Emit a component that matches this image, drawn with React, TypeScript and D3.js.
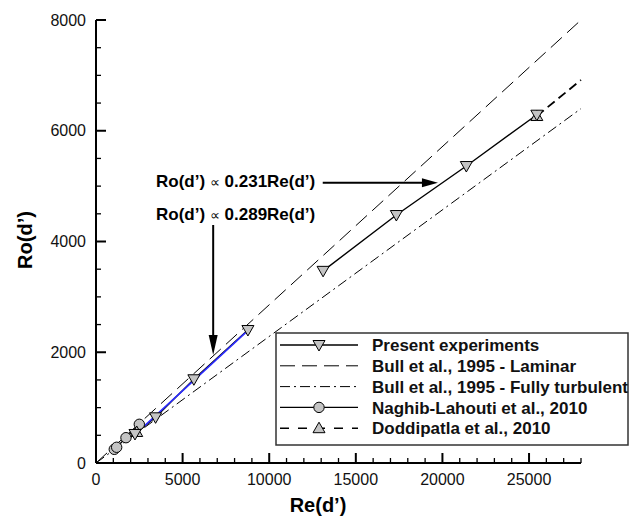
import React from "react";
import * as d3 from "d3";

// Present experiments: two ranges of Re(d')
const presentLowRe = [2250, 3440, 5650, 8770];
const presentLowRo = [524, 825, 1512, 2402];
const presentHighRe = [13110, 17340, 21380, 25450];
const presentHighRo = [3470, 4478, 5363, 6290];

// Linear fit through the low-Re range (slope 0.289)
const fitRe = [2800, 8700];
const fitRo = [669, 2374];

// Bull et al., 1995 correlations (lines through the origin)
const laminarRe = [0, 28000];
const laminarRo = [0, 8000];
const turbulentRe = [0, 28000];
const turbulentRo = [0, 6400];

// Naghib-Lahouti et al., 2010
const naghibRe = [1055, 1193, 1730, 2500];
const naghibRo = [247, 284, 457, 699];

// Doddipatla et al., 2010
const doddRe = [25450, 28000];
const doddRo = [6266, 6917];
const doddLowRe = [2350];
const doddLowRo = [560];

const xMajor = [0, 5000, 10000, 15000, 20000, 25000];
const yMajor = [0, 2000, 4000, 6000, 8000];

const legendLabels = [
  "Present experiments",
  "Bull et al., 1995 - Laminar",
  "Bull et al., 1995 - Fully turbulent",
  "Naghib-Lahouti et al., 2010",
  "Doddipatla et al., 2010",
];

const FONT = "'Liberation Sans', Arial, Helvetica, sans-serif";
const MARK_FILL = "#c4c4c4";

const triDown = "M-6,-4.5L6,-4.5L0,6Z";
const triUp = "M-6,4.5L6,4.5L0,-6Z";

export default function App() {
  const W = 630;
  const H = 517;
  const x = d3.scaleLinear().domain([0, 28000]).range([96, 581]);
  const y = d3.scaleLinear().domain([0, 8000]).range([463, 20]);

  const line = d3
    .line<[number, number]>()
    .x((d) => x(d[0]))
    .y((d) => y(d[1]));

  const zip = (a: number[], b: number[]) => a.map((v, i) => [v, b[i]] as [number, number]);

  const xMinor = d3.range(0, 28001, 1000).filter((v) => v % 5000 !== 0);
  const yMinor = d3.range(0, 8001, 500).filter((v) => v % 2000 !== 0);

  // legend geometry
  const lgX = 276;
  const lgY = 333;
  const lgW = 352;
  const lgH = 112;
  const rowY = (i: number) => lgY + 12 + i * 20.8;
  const sx0 = lgX + 4;
  const sx1 = lgX + 82;
  const smid = (sx0 + sx1) / 2;

  // annotation arrows (data coordinates)
  const arrow1 = { y: 5062, x0: 13090, x1: 19740 };
  const arrow2 = { x: 6765, y0: 4298, y1: 1950 };

  const a1y = y(arrow1.y);
  const a1x0 = x(arrow1.x0);
  const a1x1 = x(arrow1.x1);
  const a2x = x(arrow2.x);
  const a2y0 = y(arrow2.y0);
  const a2y1 = y(arrow2.y1);

  return (
    <svg
      width={W}
      height={H}
      style={{ position: "absolute", left: 0, top: 0, background: "#fff" }}
      fontFamily={FONT}
    >
      <rect width={W} height={H} fill="#fff" />

      {/* correlation lines */}
      <path d={line(zip(laminarRe, laminarRo)) || ""} fill="none" stroke="#000" strokeWidth={1} strokeDasharray="15,7" />
      <path
        d={line(zip(turbulentRe, turbulentRo)) || ""}
        fill="none"
        stroke="#000"
        strokeWidth={1}
        strokeDasharray="10,4,2,4"
      />

      {/* data lines */}
      <path d={line(zip(presentLowRe, presentLowRo)) || ""} fill="none" stroke="#000" strokeWidth={1.4} />
      <path d={line(zip(presentHighRe, presentHighRo)) || ""} fill="none" stroke="#000" strokeWidth={1.4} />
      <path d={line(zip(naghibRe, naghibRo)) || ""} fill="none" stroke="#000" strokeWidth={1.4} />
      <path d={line(zip(doddRe, doddRo)) || ""} fill="none" stroke="#000" strokeWidth={1.8} strokeDasharray="9,5" />
      <path d={line(zip(fitRe, fitRo)) || ""} fill="none" stroke="#2b2bff" strokeWidth={1.6} />

      {/* markers */}
      {naghibRe.map((v, i) => (
        <circle key={"n" + i} cx={x(v)} cy={y(naghibRo[i])} r={5.2} fill={MARK_FILL} stroke="#000" strokeWidth={1} />
      ))}
      {doddLowRe.map((v, i) => (
        <path key={"dl" + i} d={triUp} transform={`translate(${x(v)},${y(doddLowRo[i])})`} fill={MARK_FILL} stroke="#000" strokeWidth={1} />
      ))}
      {doddRe.slice(0, 1).map((v, i) => (
        <path key={"d" + i} d={triUp} transform={`translate(${x(v)},${y(doddRo[i])})`} fill={MARK_FILL} stroke="#000" strokeWidth={1} />
      ))}
      {[...presentLowRe, ...presentHighRe].map((v, i) => {
        const ro = [...presentLowRo, ...presentHighRo][i];
        return (
          <path key={"p" + i} d={triDown} transform={`translate(${x(v)},${y(ro)})`} fill={MARK_FILL} stroke="#000" strokeWidth={1} />
        );
      })}

      {/* axes */}
      <line x1={x(0)} x2={x(28000)} y1={y(0)} y2={y(0)} stroke="#000" strokeWidth={2} />
      <line x1={x(0)} x2={x(0)} y1={y(0)} y2={y(8000)} stroke="#000" strokeWidth={2} />
      {xMajor.map((v) => (
        <g key={"xm" + v}>
          <line x1={x(v)} x2={x(v)} y1={y(0)} y2={y(0) - 10} stroke="#000" strokeWidth={2} />
          <text x={x(v)} y={y(0) + 22} textAnchor="middle" fontSize={16} fill="#111">
            {v}
          </text>
        </g>
      ))}
      {xMinor.map((v) => (
        <line key={"xn" + v} x1={x(v)} x2={x(v)} y1={y(0)} y2={y(0) - 5} stroke="#000" strokeWidth={1.3} />
      ))}
      {yMajor.map((v) => (
        <g key={"ym" + v}>
          <line x1={x(0)} x2={x(0) + 10} y1={y(v)} y2={y(v)} stroke="#000" strokeWidth={2} />
          <text x={x(0) - 10} y={y(v)} dy="0.35em" textAnchor="end" fontSize={16} fill="#111">
            {v}
          </text>
        </g>
      ))}
      {yMinor.map((v) => (
        <line key={"yn" + v} x1={x(0)} x2={x(0) + 5} y1={y(v)} y2={y(v)} stroke="#000" strokeWidth={1.3} />
      ))}

      {/* axis titles */}
      <text x={318} y={512} textAnchor="middle" fontSize={20} fontWeight="bold">
        Re(d’)
      </text>
      <text transform="translate(32,240) rotate(-90)" textAnchor="middle" fontSize={20} fontWeight="bold">
        Ro(d’)
      </text>

      {/* annotations */}
      <text x={156} y={187} fontSize={17} fontWeight="bold">
        Ro(d’) <tspan fontWeight="normal" fontSize={14}>∝</tspan> 0.231Re(d’)
      </text>
      <text x={156} y={220} fontSize={17} fontWeight="bold">
        Ro(d’) <tspan fontWeight="normal" fontSize={14}>∝</tspan> 0.289Re(d’)
      </text>
      <line x1={a1x0} x2={a1x1 - 14} y1={a1y} y2={a1y} stroke="#000" strokeWidth={2} />
      <path d={`M${a1x1},${a1y}L${a1x1 - 16},${a1y - 4.5}L${a1x1 - 16},${a1y + 4.5}Z`} fill="#000" />
      <line x1={a2x} x2={a2x} y1={a2y0} y2={a2y1 - 16} stroke="#000" strokeWidth={2} />
      <path d={`M${a2x},${a2y1}L${a2x - 4.5},${a2y1 - 20}L${a2x + 4.5},${a2y1 - 20}Z`} fill="#000" />

      {/* legend */}
      <rect x={lgX} y={lgY} width={lgW} height={lgH} fill="#fff" stroke="#333" strokeWidth={1.5} />
      <line x1={sx0} x2={sx1} y1={rowY(0)} y2={rowY(0)} stroke="#000" strokeWidth={1.4} />
      <path d={triDown} transform={`translate(${smid},${rowY(0)})`} fill={MARK_FILL} stroke="#000" strokeWidth={1} />
      <line x1={sx0} x2={sx1} y1={rowY(1)} y2={rowY(1)} stroke="#000" strokeWidth={1} strokeDasharray="15,7" />
      <line x1={sx0} x2={sx1} y1={rowY(2)} y2={rowY(2)} stroke="#000" strokeWidth={1} strokeDasharray="10,4,2,4" />
      <line x1={sx0} x2={sx1} y1={rowY(3)} y2={rowY(3)} stroke="#000" strokeWidth={1.4} />
      <circle cx={smid} cy={rowY(3)} r={5.2} fill={MARK_FILL} stroke="#000" strokeWidth={1} />
      <line x1={sx0} x2={sx1} y1={rowY(4)} y2={rowY(4)} stroke="#000" strokeWidth={1.6} strokeDasharray="9,9" />
      <path d={triUp} transform={`translate(${smid},${rowY(4)})`} fill={MARK_FILL} stroke="#000" strokeWidth={1} />
      {legendLabels.map((t, i) => (
        <text key={t} x={lgX + 96} y={rowY(i)} dy="0.36em" fontSize={17} fontWeight="bold" fill="#111">
          {t}
        </text>
      ))}
    </svg>
  );
}
